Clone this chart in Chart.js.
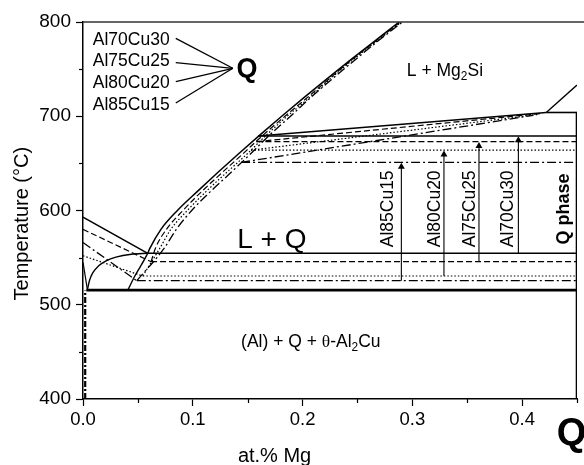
<!DOCTYPE html>
<html><head><meta charset="utf-8">
<script src="https://cdn.jsdelivr.net/npm/chart.js@4.4.1/dist/chart.umd.min.js"></script>
<style>html,body{margin:0;padding:0;background:#fff;overflow:hidden}</style>
</head><body>
<canvas id="c" width="584" height="465" style="display:block;width:584px;height:465px"></canvas>
<script>
// ---------------- data ----------------
const compositions = ['Al70Cu30', 'Al75Cu25', 'Al80Cu20', 'Al85Cu15'];
// (Al) liquidus temperature at 0 at.% Mg
const alLiqStartT = [593, 580, 552, 566];
// lower invariant (L -> (Al)+Q+theta) point and temperature
const lowerX = [0.059, 0.062, 0.0545, 0.049];
const lowerT = [554.6, 545.7, 530.5, 525.5];
// upper invariant (L + Q + Mg2Si) start point
const upperX = [0.1595, 0.158, 0.153, 0.144];
const upperT = [679, 673, 664, 651];
// where the sloping upper boundaries meet the Q-phase box
const meetX = [0.422, 0.418, 0.415, 0.41];
const meetT = [704, 703, 702, 701];
// arrows marking each alloy's Q-phase composition range
const arrowX = [0.3966, 0.3607, 0.3288, 0.29];
// Q liquidus: temperatures and the at.% Mg of each alloy's curve
const liqT   = [560, 580, 600, 620, 640, 660, 680, 700, 720, 740, 760, 780, 800];
const liqX70 = [0.061, 0.071, 0.086, 0.104, 0.1225, 0.1415, 0.161, 0.181, 0.2015, 0.2225, 0.244, 0.266, 0.288];
const liqX75 = [0.066, 0.076, 0.091, 0.108, 0.1265, 0.1455, 0.164, 0.184, 0.2045, 0.2245, 0.245, 0.267, 0.289];
const liqX80 = [0.070, 0.080, 0.095, 0.112, 0.1305, 0.1495, 0.167, 0.186, 0.2065, 0.2255, 0.246, 0.268, 0.290];
const liqX85 = [0.074, 0.085, 0.099, 0.116, 0.1345, 0.1525, 0.170, 0.189, 0.2075, 0.2275, 0.248, 0.269, 0.291];
const liqXs = [liqX70, liqX75, liqX80, liqX85];
// lower solid curves in the Al corner
const arcX = [0.004, 0.006, 0.009, 0.014, 0.021, 0.03, 0.044, 0.059];
const arcT = [516, 526, 534, 541, 546.5, 550.5, 553.6, 554.6];
const liqLowX = [0.041, 0.047, 0.052, 0.0555, 0.059];
const liqLowT = [516, 530, 540, 547, 554.6];
const solvusX = [0, 0.004];
const solvusT = [545, 516];
const solvus2X = [0.002, 0.002];
const solvus2T = [400, 515];
// eutectic (Al)+Q+theta line, Q phase composition and box top
const eutecticT = 515.5;
const eutecticX = [0.003, 0.45];
const qPhaseX = 0.45;
const qPhaseT = [400, 704];
// Mg2Si liquidus stub at the right
const mg2siX = [0.422, 0.45];
const mg2siT = [704, 733];
// axes
const xTicks = [0, 0.1, 0.2, 0.3, 0.4];
const yTicks = [400, 500, 600, 700, 800];

// ---------------- styles ----------------
const FONT = '"Liberation Sans", Arial, Helvetica, sans-serif';
const DASH = [[], [6, 3], [1.5, 2], [9, 3, 2, 3]];
const WIDTH = [1.5, 1.2, 1.2, 1.3];

function pts(xs, ts) { return xs.map((x, i) => ({ x: x, y: ts[i] })); }
function line(data, dash, width, curved) {
  const d = { data: data, showLine: true, pointRadius: 0, borderColor: '#000', backgroundColor: '#000',
              borderWidth: width, borderDash: dash, tension: 0, fill: false };
  if (curved) { d.cubicInterpolationMode = 'monotone'; d.tension = 0.4; }
  return d;
}

const datasets = [];
compositions.forEach((name, i) => {
  datasets.push(line(pts([0, lowerX[i]], [alLiqStartT[i], lowerT[i]]), DASH[i], WIDTH[i]));
  datasets.push(line([{ x: lowerX[i], y: lowerT[i] }].concat(pts(liqXs[i], liqT)), DASH[i], WIDTH[i], true));
  datasets.push(line(pts([lowerX[i], qPhaseX], [lowerT[i], lowerT[i]]), DASH[i], WIDTH[i]));
  datasets.push(line(pts([upperX[i], qPhaseX], [upperT[i], upperT[i]]), DASH[i], WIDTH[i]));
  datasets.push(line(pts([upperX[i], meetX[i]], [upperT[i], meetT[i]]), DASH[i], WIDTH[i]));
  const a = line(pts([arrowX[i], arrowX[i]], [lowerT[i], upperT[i] - 4.5]), [], 1.1);
  a.pointStyle = 'triangle'; a.pointRadius = [0, 4]; a.pointBorderWidth = 0;
  datasets.push(a);
});
datasets.push(line(pts(arcX, arcT), [], 1.4, true));
datasets.push(line(pts(liqLowX, liqLowT), [], 1.4, true));
datasets.push(line(pts(solvusX, solvusT), [], 1.2));
datasets.push(line(pts(solvus2X, solvus2T), [6, 2, 2, 2], 2.2));
datasets.push(line(pts(eutecticX, [eutecticT, eutecticT]), [], 2.6));
datasets.push(line(pts([qPhaseX, qPhaseX], qPhaseT), [], 2.6));
datasets.push(line(pts([meetX[0], qPhaseX], [meetT[0], meetT[0]]), [], 1.6));
datasets.push(line(pts(mg2siX, mg2siT), [], 1.4));

// ---------------- annotations (positions in data units) ----------------
const notes = [
  { segs: [{ t: 'L + Q' }], x: 0.172, y: 568, size: 28, align: 'center' },
  { segs: [{ t: 'L + Mg' }, { t: '2', sub: 1 }, { t: 'Si' }], x: 0.3297, y: 748, size: 17.5, align: 'center' },
  { segs: [{ t: '(Al) + Q + ' }, { t: '\u03B8', serif: 1 }, { t: '-Al' }, { t: '2', sub: 1 }, { t: 'Cu' }], x: 0.2075, y: 460, size: 17.5, align: 'center' },
  { segs: [{ t: 'Al70Cu30' }], x: 0.0089, y: 781, size: 17.5, align: 'left' },
  { segs: [{ t: 'Al75Cu25' }], x: 0.0089, y: 758, size: 17.5, align: 'left' },
  { segs: [{ t: 'Al80Cu20' }], x: 0.0089, y: 735.6, size: 17.5, align: 'left' },
  { segs: [{ t: 'Al85Cu15' }], x: 0.0089, y: 712, size: 17.5, align: 'left' },
  { segs: [{ t: 'Q' }], x: 0.1399, y: 750, size: 27, align: 'left', bold: 1 },
  { segs: [{ t: 'Al85Cu15' }], x: 0.2778, y: 561, size: 17.5, align: 'left', rot: 1 },
  { segs: [{ t: 'Al80Cu20' }], x: 0.3206, y: 561, size: 17.5, align: 'left', rot: 1 },
  { segs: [{ t: 'Al75Cu25' }], x: 0.3525, y: 561, size: 17.5, align: 'left', rot: 1 },
  { segs: [{ t: 'Al70Cu30' }], x: 0.3871, y: 561, size: 17.5, align: 'left', rot: 1 },
  { segs: [{ t: 'Q phase' }], x: 0.4383, y: 564, size: 18, align: 'left', rot: 1, bold: 1 }
];
const leaderFrom = { x: 0.0845, ys: [782.7, 756.8, 736.7, 714.1] };
const leaderTo = { x: 0.1365, y: 750.9 };
const bigQ = { x: 0.4316, offset: 36, size: 38 };
// axis titles: the original figure was cropped, so they sit off-centre
const xTitle = { text: 'at.% Mg', x: 0.1745, offset: 57, size: 20 };
const yTitle = { text: 'Temperature (°C)', y: 586, offset: 61, size: 20 };

function drawRich(ctx, segs, x, y, size, bold, align) {
  const fontFor = s => (bold ? 'bold ' : '') + (s.sub ? size * 0.68 : size) + 'px ' + (s.serif ? '"Liberation Serif", serif' : FONT);
  let w = 0;
  segs.forEach(s => { ctx.font = fontFor(s); w += ctx.measureText(s.t).width; });
  let cx = align === 'center' ? x - w / 2 : (align === 'right' ? x - w : x);
  ctx.textAlign = 'left'; ctx.textBaseline = 'middle'; ctx.fillStyle = '#000';
  segs.forEach(s => {
    ctx.font = fontFor(s);
    ctx.fillText(s.t, cx, s.sub ? y + size * 0.32 : y);
    cx += ctx.measureText(s.t).width;
  });
}

const annotate = {
  id: 'annotate',
  afterDraw(chart) {
    const ctx = chart.ctx, xs = chart.scales.x, ys = chart.scales.y, area = chart.chartArea;
    ctx.save();
    ctx.strokeStyle = '#333'; ctx.lineWidth = 1.5;
    ctx.beginPath(); ctx.moveTo(area.left, area.top); ctx.lineTo(chart.width, area.top); ctx.stroke();
    ctx.strokeStyle = '#000'; ctx.lineWidth = 1.2;
    for (let v = 0.05; v < 0.45; v += 0.1) {
      const p = Math.round(xs.getPixelForValue(v)) + 0.5;
      ctx.beginPath(); ctx.moveTo(p, area.bottom); ctx.lineTo(p, area.bottom + 4); ctx.stroke();
    }
    for (let v = 450; v < 800; v += 100) {
      const p = Math.round(ys.getPixelForValue(v)) + 0.5;
      ctx.beginPath(); ctx.moveTo(area.left, p); ctx.lineTo(area.left - 4, p); ctx.stroke();
    }
    ctx.lineWidth = 1.3;
    leaderFrom.ys.forEach(y => {
      ctx.beginPath();
      ctx.moveTo(xs.getPixelForValue(leaderFrom.x), ys.getPixelForValue(y));
      ctx.lineTo(xs.getPixelForValue(leaderTo.x), ys.getPixelForValue(leaderTo.y));
      ctx.stroke();
    });
    notes.forEach(n => {
      const px = xs.getPixelForValue(n.x), py = ys.getPixelForValue(n.y);
      if (n.rot) {
        ctx.save(); ctx.translate(px, py); ctx.rotate(-Math.PI / 2);
        drawRich(ctx, n.segs, 0, 0, n.size, n.bold, n.align);
        ctx.restore();
      } else {
        drawRich(ctx, n.segs, px, py, n.size, n.bold, n.align);
      }
    });
    drawRich(ctx, [{ t: 'Q' }], xs.getPixelForValue(bigQ.x), area.bottom + bigQ.offset, bigQ.size, true, 'left');
    drawRich(ctx, [{ t: xTitle.text }], xs.getPixelForValue(xTitle.x), area.bottom + xTitle.offset, xTitle.size, false, 'center');
    ctx.save();
    ctx.translate(area.left - yTitle.offset, ys.getPixelForValue(yTitle.y));
    ctx.rotate(-Math.PI / 2);
    drawRich(ctx, [{ t: yTitle.text }], 0, 0, yTitle.size, false, 'center');
    ctx.restore();
    ctx.restore();
  }
};

new Chart(document.getElementById('c'), {
  type: 'scatter',
  data: { datasets: datasets },
  plugins: [annotate],
  options: {
    responsive: false, animation: false, devicePixelRatio: 1,
    layout: { padding: { top: 22, right: 7, left: 0, bottom: 0 } },
    plugins: { legend: { display: false }, tooltip: { enabled: false } },
    scales: {
      x: {
        type: 'linear', min: 0, max: 0.45,
        afterBuildTicks: s => { s.ticks = xTicks.map(v => ({ value: v })); },
        afterFit: s => { s.height = 66; },
        ticks: { callback: v => Number(v).toFixed(1), color: '#000', font: { family: FONT, size: 18.5 }, padding: 3, maxRotation: 0, autoSkip: false },
        grid: { drawOnChartArea: false, tickLength: 7, tickColor: '#000', tickWidth: 1.2 },
        border: { color: '#000', width: 1.5 },
        title: { display: false }
      },
      y: {
        type: 'linear', min: 400, max: 800,
        afterBuildTicks: s => { s.ticks = yTicks.map(v => ({ value: v })); },
        afterFit: s => { s.width = 83; },
        ticks: { color: '#000', font: { family: FONT, size: 19 }, padding: 5 },
        grid: { drawOnChartArea: false, tickLength: 7, tickColor: '#000', tickWidth: 1.2 },
        border: { color: '#000', width: 1.5 },
        title: { display: false }
      }
    }
  }
});
</script>
</body></html>
